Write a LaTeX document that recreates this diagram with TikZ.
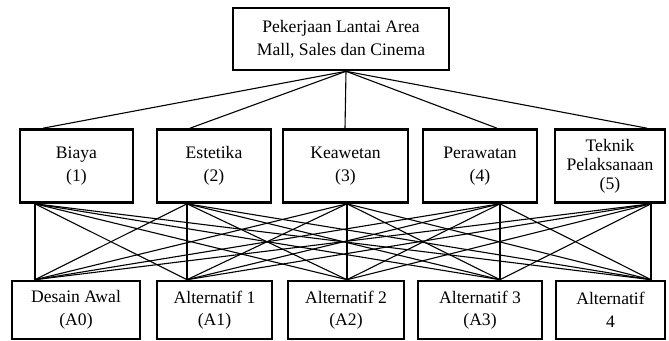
\documentclass[tikz,border=0pt]{standalone}
\usepackage{fontspec}
\setmainfont{Liberation Serif}
\usetikzlibrary{positioning,calc}

\begin{document}
\begin{tikzpicture}[x=0.5pt,y=-0.5pt,
    box/.style={draw,line width=1.3pt,align=center,inner sep=0pt,
      font=\fontsize{8.8}{11.3}\selectfont},
    crit/.style={box,minimum height=36.5pt},
    alt/.style={box,minimum height=29pt},
    link/.style={line width=0.55pt}]
  \useasboundingbox (0,0) rectangle (669,341);

  \node[box,minimum width=108pt,minimum height=31pt] (goal) at (341,39)
    {Pekerjaan Lantai Area\\Mall, Sales dan Cinema};

  \node[crit,minimum width=56.5pt] (k1) at (76.5,166) {Biaya\\(1)};
  \node[crit,minimum width=57pt] (k2) at (214,166) {Estetika\\(2)};
  \node[crit,minimum width=62.5pt] (k3) at (345.5,166) {Keawetan\\(3)};
  \node[crit,minimum width=57pt] (k4) at (480,166) {Perawatan\\(4)};
  \node[crit,minimum width=55pt,font=\fontsize{8.8}{9.5}\selectfont] (k5) at (610,166)
    {Teknik\\Pelaksanaan\\(5)};

  \node[alt,minimum width=64pt] (a0) at (76,310) {Desain Awal\\(A0)};
  \node[alt,minimum width=57.5pt] (a1) at (214.5,310) {Alternatif 1\\(A1)};
  \node[alt,minimum width=58pt] (a2) at (346,310) {Alternatif 2\\(A2)};
  \node[alt,minimum width=62pt] (a3) at (480,310) {Alternatif 3\\(A3)};
  \node[alt,minimum width=54.5pt] (a4) at (610.5,310) {Alternatif\\4};

  % ends of the links
  \coordinate (g) at (goal.south -| 346,0);
  \foreach \i/\x in {1/43,2/190,3/345,4/497,5/647}
    \coordinate (in\i) at (k\i.north -| \x,0);
  \foreach \i/\x in {1/35,2/187,3/347,4/500,5/651}
    \coordinate (out\i) at (k\i.south -| \x,0);
  \foreach \j/\x in {0/35,1/187,2/347,3/500,4/651}
    \coordinate (top\j) at (a\j.north -| \x,0);

  \foreach \i in {1,...,5}
    \path[link] (g) edge (in\i);
  \foreach \i in {1,...,5}
    \foreach \j in {0,...,4}
      \path[link] (out\i) edge (top\j);
\end{tikzpicture}
\end{document}
